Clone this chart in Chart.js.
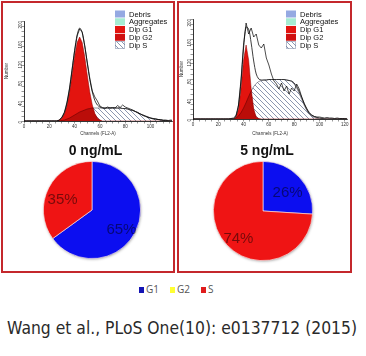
<!DOCTYPE html>
<html><head><meta charset="utf-8">
<script src="https://cdn.jsdelivr.net/npm/chart.js@4.4.0/dist/chart.umd.min.js"></script>
<style>
html,body{margin:0;padding:0;background:#fff;width:366px;height:356px;overflow:hidden;position:relative;}
canvas{position:absolute;}
.panel{position:absolute;box-sizing:border-box;border:2px solid #c4282c;}
.ptitle{position:absolute;font:bold 14px "Liberation Sans",Arial,sans-serif;line-height:14px;color:#111;white-space:nowrap;transform:translateX(-50%);}
#legend{position:absolute;left:139px;top:283px;font:10px "Open Sans",sans-serif;line-height:12px;color:#555;white-space:nowrap;}
#legend span.sw{display:inline-block;width:5px;height:6px;margin-right:2px;vertical-align:0px;}
#legend span.it{display:inline-block;margin-right:11px;}
#caption{position:absolute;left:7px;top:319.5px;font:17px "DejaVu Sans",sans-serif;line-height:17px;color:#2a2a2a;white-space:nowrap;transform-origin:0 0;}
</style></head>
<body>
<canvas id="h0" width="170" height="132" style="left:4px;top:4px"></canvas>
<canvas id="h1" width="170" height="132" style="left:179px;top:4px"></canvas>
<canvas id="p0" width="110" height="110" style="left:37px;top:155px"></canvas>
<canvas id="p1" width="112" height="112" style="left:207px;top:155px"></canvas>
<div class="ptitle" id="t0" style="left:95.5px;top:143.4px"></div>
<div class="ptitle" id="t1" style="left:267px;top:143.4px"></div>
<div id="legend"></div>
<div id="caption"></div>
<div class="panel" style="left:1px;top:1px;width:174px;height:272px"></div>
<div class="panel" style="left:177px;top:1px;width:175px;height:272px"></div>
<script>
// ---------- data ----------
const doses = ['0 ng/mL', '5 ng/mL'];
const phases = ['G1', 'G2', 'S'];
const pie0 = [65, 0, 35];
const pie1 = [26, 0, 74];
const histLegendLabels = ['Debris', 'Aggregates', 'Dip G1', 'Dip G2', 'Dip S'];
const caption = 'Wang et al., PLoS One(10): e0137712 (2015)';
const xTitle = 'Channels (FL2-A)';
const yTitle = 'Number';
// channels 0..124 step 2
const channels = [0,2,4,6,8,10,12,14,16,18,20,22,24,26,28,30,32,34,36,38,40,42,44,46,48,50,52,54,56,58,60,62,64,66,68,70,72,74,76,78,80,82,84,86,88,90,92,94,96,98,100,102,104,106,108,110,112,114,116,118,120,122,124];
const leftG1 = [0,0,0,0,0,0,0,0,0,0, 0,0,0,0,2,6,15,32,58,92, 129,157,168,157,129,92,58,32,15,6, 2,0,0,0,0,0,0,0,0,0, 0,0,0,0,0,0,0,0,0,0, 0,0,0,0,0,0,0,0,0,0, 0,0,0];
const leftS  = [0,0,0,0,0,0,0,0,0,0, 0,0,0,0,0,1,2,4,6,9, 12,15,18,20,22,24,25,26,26,26, 26,26,26,26,26,26,26,26,26,25, 25,24,22,21,19,17,14,12,10,8, 6,5,4,3,2,1,1,0,0,0, 0,0,0];
const leftFit= [0,0,0,0,0,0,0,0,0,0, 0,0,0,0,2,7,17,36,64,101, 141,172,186,177,151,116,83,58,41,32, 28,26,26,26,26,26,26,26,26,25, 25,24,22,21,19,17,14,12,10,8, 6,5,4,3,2,1,1,0,0,0, 0,0,0];
const leftRaw= [0,0,0,0,0,0,0,0,0,0, 0,0,0,0,2,8,18,38,66,104, 140,170,184,178,150,118,86,60,48,40, 30,27,25,28,26,27,26,31,27,32, 28,26,24,22,19,16,14,11,9,7, 6,4,4,3,3,2,2,1,2,1, 0,0,0];
const rightG1 = [0,0,0,0,0,0,0,0,0,0, 0,0,0,0,0,0,0,4,20,61, 118,148,118,61,20,4,1,0,0,0, 0,0,0,0,0,0,0,0,0,0, 0,0,0,0,0,0,0,0,0,0, 0,0,0,0,0,0,0,0,0,0, 0,0,0];
const rightS  = [0,0,0,0,0,0,0,0,0,0, 0,0,0,0,0,0,1,2,6,13, 22,33,45,56,65,71,75,77,78,78, 79,79,79,79,79,79,79,78,77,75, 70,62,51,39,27,17,10,5,3,1, 0,0,0,0,0,0,0,0,0,0, 0,0,0];
const rightFit= [0,0,0,0,0,0,0,0,0,0, 0,0,0,0,0,0,0,6,28,76, 142,184,180,152,116,90,80,78,78,78, 79,79,79,79,79,79,79,78,77,76, 72,65,55,43,31,21,13,8,5,3, 2,1,0,0,0,0,0,0,0,0, 0,0,0];
const rightRaw= [0,0,0,0,0,0,0,0,0,0, 0,0,0,0,0,1,2,7,28,80, 150,192,170,182,164,170,148,142,150,122, 108,90,76,70,60,72,56,66,50,62, 56,70,60,44,30,19,11,7,5,4, 4,3,2,3,2,2,1,2,1,1, 1,0,0];

// ---------- styles ----------
const pieColors = ['#0c0ef0', '#ffff33', '#ef1414'];
const legendSwatch = ['#1414b4', '#ffff33', '#e01c1c'];
const FONT = '"Liberation Sans", Arial, sans-serif';

function hatch(){
  const c=document.createElement('canvas'); c.width=c.height=5;
  const x=c.getContext('2d'); x.fillStyle='#fff'; x.fillRect(0,0,5,5);
  x.strokeStyle='#6f7c9c'; x.lineWidth=0.8; x.beginPath();
  x.moveTo(0,0); x.lineTo(5,5); x.moveTo(-1,4); x.lineTo(1,6); x.moveTo(4,-1); x.lineTo(6,1); x.stroke();
  return document.createElement('canvas').getContext('2d').createPattern(c,'repeat');
}
const hatchPat = hatch();
const legendFills = ['#95a9e2', '#a6ecd2', '#e3140f', '#d01010', hatchPat];

const pts = arr => channels.map((c,i)=>({x:c, y:arr[i]}));

const overlap = { id:'overlap', afterDatasetDraw(chart, args){
  if (chart.data.datasets[args.index].label !== 'Dip G1') return;
  const g = args.meta.data, s = chart.getDatasetMeta(0).data;
  const base = chart.scales.y.getPixelForValue(0);
  const ctx = chart.ctx, a = chart.chartArea; ctx.save();
  ctx.beginPath(); ctx.rect(a.left, a.top, a.width, a.height); ctx.clip();
  ctx.beginPath(); ctx.moveTo(g[0].x, base); g.forEach(p=>ctx.lineTo(p.x,p.y)); ctx.lineTo(g[g.length-1].x, base); ctx.closePath(); ctx.clip();
  ctx.beginPath(); ctx.moveTo(s[0].x, base); s.forEach(p=>ctx.lineTo(p.x,p.y)); ctx.lineTo(s[s.length-1].x, base); ctx.closePath();
  ctx.fillStyle='rgba(110,0,0,0.35)'; ctx.fill();
  ctx.beginPath(); s.forEach((p,i)=> i?ctx.lineTo(p.x,p.y):ctx.moveTo(p.x,p.y));
  ctx.strokeStyle='#6a0000'; ctx.lineWidth=0.6; ctx.stroke();
  ctx.restore();
}};

const histLegend = { id:'histLegend', afterDraw(chart, args, o){
  const ctx = chart.ctx; ctx.save();
  ctx.font = '7.5px ' + FONT; ctx.textBaseline = 'middle'; ctx.textAlign='left';
  histLegendLabels.forEach((lab,i)=>{
    const y = o.y + i*o.dy;
    ctx.fillStyle = legendFills[i]; ctx.fillRect(o.x, y-3.5, 10, 7);
    if (i===4){ ctx.strokeStyle='#6f7c9c'; ctx.lineWidth=0.5; ctx.strokeRect(o.x+0.25, y-3.25, 9.5, 6.5); }
    ctx.fillStyle = '#111'; ctx.fillText(lab, o.x+14, y+0.5);
  });
  ctx.restore();
}};

function makeHist(id, g1, s, fit, raw, geo){
  const tickFont = {size:4.5, family:FONT};
  new Chart(document.getElementById(id), {
    type:'line',
    data:{datasets:[
      {label:'Dip S', data:pts(s), fill:'origin', backgroundColor:hatchPat, borderColor:'#4a4a5a', borderWidth:0.6, pointRadius:0, order:4},
      {label:'Dip G1', data:pts(g1), fill:'origin', backgroundColor:'#e3140f', borderColor:'#900000', borderWidth:0.5, pointRadius:0, order:3},
      {label:'Fit', data:pts(fit), fill:false, borderColor:'#2a2a2a', borderWidth:0.9, pointRadius:0, tension:0.3, order:2},
      {label:'Data', data:pts(raw), fill:false, borderColor:'#000', borderWidth:0.7, pointRadius:0, order:1}
    ]},
    options:{
      responsive:false, animation:false, events:[],
      layout:{padding:{top:geo.pt, right:geo.pr, left:0, bottom:0}},
      plugins:{legend:{display:false}, tooltip:{enabled:false}, histLegend:{x:geo.lx, y:10, dy:7.75}},
      scales:{
        x:{type:'linear', min:0, max:geo.xmax, afterFit:sc=>{sc.height=geo.xh;},
           border:{color:'#000', width:0.8},
           grid:{drawOnChartArea:false, tickLength:2.5, color:'#333', lineWidth:0.5},
           ticks:{stepSize:5, autoSkip:false, includeBounds:false, minRotation:0, maxRotation:0, padding:0.5, font:tickFont, color:'#333',
                  callback:v=> v%20===0 ? String(v) : ''},
           title:{display:true, text:xTitle, font:tickFont, color:'#333', padding:0}},
        y:{min:0, max:200, afterFit:sc=>{sc.width=geo.yw;},
           border:{color:'#000', width:0.8},
           grid:{drawOnChartArea:false, tickLength:2.5, color:'#333', lineWidth:0.5},
           ticks:{stepSize:10, autoSkip:false, includeBounds:false, minRotation:90, maxRotation:90, padding:0.5, font:tickFont, color:'#333',
                  callback:v=> v%40===0 ? String(v) : ''},
           title:{display:true, text:yTitle, font:tickFont, color:'#333', padding:0}}
      }
    },
    plugins:[overlap, histLegend]
  });
}
makeHist('h0', leftG1, leftS, leftFit, leftRaw, {pt:17, pr:2, xh:15, yw:20, xmax:117, lx:111});
makeHist('h1', rightG1, rightS, rightFit, rightRaw, {pt:15, pr:1, xh:17, yw:14, xmax:122, lx:107});

const pieLabels = { id:'pieLabels', afterDatasetsDraw(chart){
  const ctx = chart.ctx, meta = chart.getDatasetMeta(0), vals = chart.data.datasets[0].data;
  ctx.save(); ctx.font = '15px ' + FONT; ctx.fillStyle='rgba(0,0,0,0.5)'; ctx.textAlign='center'; ctx.textBaseline='middle';
  meta.data.forEach((arc,i)=>{
    if (!vals[i]) return;
    const a = (arc.startAngle+arc.endAngle)/2, r = arc.outerRadius*0.68;
    ctx.fillText(vals[i]+'%', arc.x + Math.cos(a)*r, arc.y + Math.sin(a)*r + 4.5);
  });
  ctx.restore();
}};
const pieShadow = { id:'pieShadow', beforeDatasetsDraw(chart){
  const arc = chart.getDatasetMeta(0).data[0]; if(!arc) return;
  const ctx = chart.ctx; ctx.save();
  ctx.shadowColor='rgba(0,0,0,0.45)'; ctx.shadowBlur=3; ctx.shadowOffsetX=0.5; ctx.shadowOffsetY=0.8;
  ctx.beginPath(); ctx.arc(arc.x, arc.y, arc.outerRadius-0.5, 0, Math.PI*2); ctx.fillStyle='#888'; ctx.fill();
  ctx.restore();
}};
function makePie(id, vals){
  new Chart(document.getElementById(id), {
    type:'pie',
    data:{labels:phases, datasets:[{data:vals, backgroundColor:pieColors, borderColor:'rgba(255,235,235,0.8)', borderWidth:0.8}]},
    options:{responsive:false, animation:false, events:[], layout:{padding:6},
      plugins:{legend:{display:false}, tooltip:{enabled:false}}},
    plugins:[pieShadow, pieLabels]
  });
}
makePie('p0', pie0);
makePie('p1', pie1);

document.getElementById('t0').textContent = doses[0];
document.getElementById('t1').textContent = doses[1];
const lg = document.getElementById('legend');
phases.forEach((p,i)=>{
  const it = document.createElement('span'); it.className='it';
  const sw = document.createElement('span'); sw.className='sw'; sw.style.background = legendSwatch[i];
  it.appendChild(sw); it.appendChild(document.createTextNode(p)); lg.appendChild(it);
});
const cap = document.getElementById('caption');
cap.textContent = caption;
const w = cap.getBoundingClientRect().width;
cap.style.transform = 'scaleX(' + (350 / w) + ')';
</script>
</body></html>
